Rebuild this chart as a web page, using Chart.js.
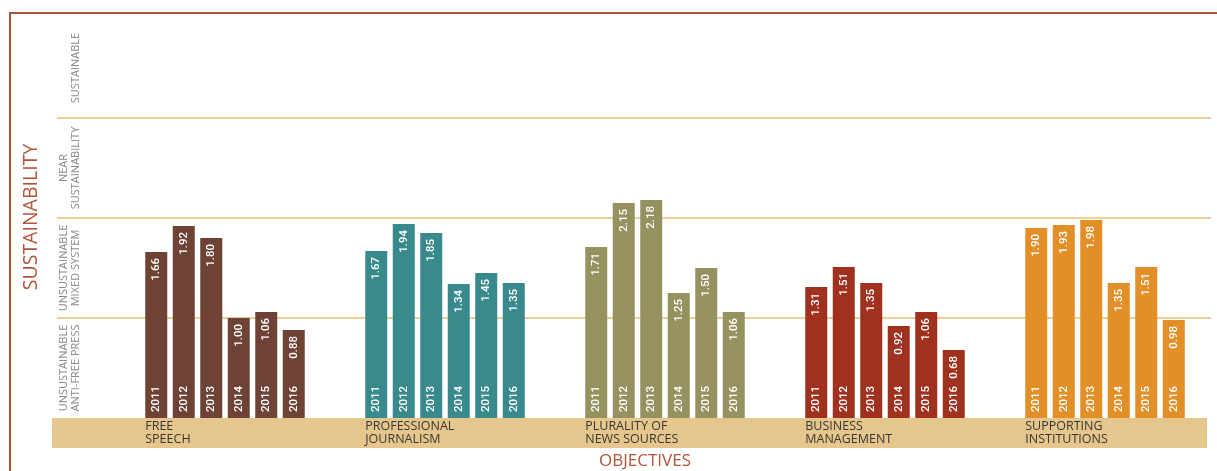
<!DOCTYPE html>
<html>
<head>
<meta charset="utf-8">
<script src="https://cdn.jsdelivr.net/npm/chart.js@4/dist/chart.umd.min.js"></script>
<style>
    html, body { margin: 0; padding: 0; background: #fff; }
    canvas { display: block; }
</style>
</head>
<body>
<canvas id="chart" width="1217" height="471"></canvas>
<script>
// Data

const objectives = [["FREE", "SPEECH"], ["PROFESSIONAL", "JOURNALISM"], ["PLURALITY OF", "NEWS SOURCES"], ["BUSINESS", "MANAGEMENT"], ["SUPPORTING", "INSTITUTIONS"]];
const years = ["2011", "2012", "2013", "2014", "2015", "2016"];

const freeSpeech = [1.66, 1.92, 1.80, 1.00, 1.06, 0.88];
const professionalJournalism = [1.67, 1.94, 1.85, 1.34, 1.45, 1.35];
const pluralityOfNews = [1.71, 2.15, 2.18, 1.25, 1.50, 1.06];
const businessManagement = [1.31, 1.51, 1.35, 0.92, 1.06, 0.68];
const supportingInstitutions = [1.90, 1.93, 1.98, 1.35, 1.51, 0.98];

const bandLabels = [
    { from: 0, to: 1, lines: ["UNSUSTAINABLE", "ANTI-FREE PRESS"] },
    { from: 1, to: 2, lines: ["UNSUSTAINABLE", "MIXED SYSTEM"] },
    { from: 2, to: 3, lines: ["NEAR", "SUSTAINABILITY"] },
    { from: 3, to: 4, lines: ["SUSTAINABLE"] },
];
const gridValues = [1, 2, 3];

// Colors

const objectiveColors = ["#6f4236", "#388a8d", "#969260", "#a1311f", "#e28f27"];
const frameColor = "#b0553a";
const gridColor = "#efd096";
const bandColor = "#e5c78e";

const allSeries = [freeSpeech, professionalJournalism, pluralityOfNews, businessManagement, supportingInstitutions];

const datasets = years.map((year, i) => ({
    label: year,
    data: allSeries.map(series => series[i]),
    backgroundColor: objectiveColors,
    borderWidth: 0,
    categoryPercentage: 0.75,
    barPercentage: 0.8,
}));

// Plugins

const backgroundPlugin = {
    id: "background",
    beforeDatasetsDraw(chart) {
        const { ctx, scales: { y } } = chart;

        ctx.save();

        // frame
        ctx.fillStyle = frameColor;
        ctx.fillRect(9, 12, 1208, 2);
        ctx.fillRect(9, 12, 2, 459);

        // gridlines
        ctx.strokeStyle = gridColor;
        ctx.lineWidth = 2;
        gridValues.forEach(v => {
            const py = Math.round(y.getPixelForValue(v));
            ctx.beginPath();
            ctx.moveTo(57, py);
            ctx.lineTo(1211, py);
            ctx.stroke();
        });

        // tan band
        const base = y.getPixelForValue(0);
        ctx.fillStyle = bandColor;
        ctx.fillRect(52, base, 1155, 30);

        // band labels
        ctx.fillStyle = "#8a8a8a";
        ctx.font = "11px 'Open Sans', sans-serif";
        ctx.textAlign = "center";
        ctx.textBaseline = "middle";
        bandLabels.forEach(band => {
            const cy = (y.getPixelForValue(band.from) + y.getPixelForValue(band.to)) / 2;
            const n = band.lines.length;
            band.lines.forEach((line, j) => {
                const cx = 76 - (n - 1 - j) * 12;
                ctx.save();
                ctx.translate(cx, cy);
                ctx.rotate(-Math.PI / 2);
                ctx.fillText(line, 0, 0);
                ctx.restore();
            });
        });

        // axis titles
        ctx.fillStyle = frameColor;
        ctx.font = "19.5px 'Open Sans', sans-serif";
        ctx.save();
        ctx.translate(31, 217);
        ctx.rotate(-Math.PI / 2);
        ctx.fillText("SUSTAINABILITY", 0, 0);
        ctx.restore();

        ctx.font = "17px 'Open Sans', sans-serif";
        ctx.fillText("OBJECTIVES", 645, 461);

        ctx.restore();
    },
    afterDatasetsDraw(chart) {
        const { ctx, scales: { y } } = chart;
        const base = y.getPixelForValue(0);

        ctx.save();

        // category labels
        const firstMeta = chart.getDatasetMeta(0);
        ctx.fillStyle = "#3b3631";
        ctx.font = "12.5px 'Open Sans', sans-serif";
        ctx.textAlign = "left";
        ctx.textBaseline = "middle";
        firstMeta.data.forEach((bar, i) => {
            const left = bar.x - bar.width / 2;
            objectives[i].forEach((line, j) => {
                ctx.fillText(line, left, base + 8 + j * 13);
            });
        });

        // year and value labels on bars
        ctx.fillStyle = "#ffffff";
        ctx.font = "500 11.5px 'Roboto', sans-serif";
        ctx.textBaseline = "middle";
        chart.data.datasets.forEach((ds, di) => {
            chart.getDatasetMeta(di).data.forEach((bar, i) => {
                ctx.save();
                ctx.translate(bar.x, bar.y);
                ctx.rotate(-Math.PI / 2);
                ctx.textAlign = "right";
                ctx.fillText(ds.data[i].toFixed(2), -6, 0);
                ctx.restore();

                ctx.save();
                ctx.translate(bar.x, base);
                ctx.rotate(-Math.PI / 2);
                ctx.textAlign = "left";
                ctx.fillText(ds.label, 6, 0);
                ctx.restore();
            });
        });

        ctx.restore();
    },
};

// Chart

const chartCtx = document.querySelector("#chart");

let sustainabilityChart = new Chart(chartCtx, {
    type: "bar",
    data: {
        labels: objectives,
        datasets: datasets,
    },
    options: {
        responsive: false,
        animation: false,
        layout: {
            padding: { left: 115, right: 2, top: 18, bottom: 53 },
        },
        plugins: {
            legend: { display: false },
            tooltip: { enabled: false },
        },
        scales: {
            x: { display: false },
            y: { display: false, min: 0, max: 4 },
        },
    },
    plugins: [backgroundPlugin],
});
</script>
</body>
</html>
